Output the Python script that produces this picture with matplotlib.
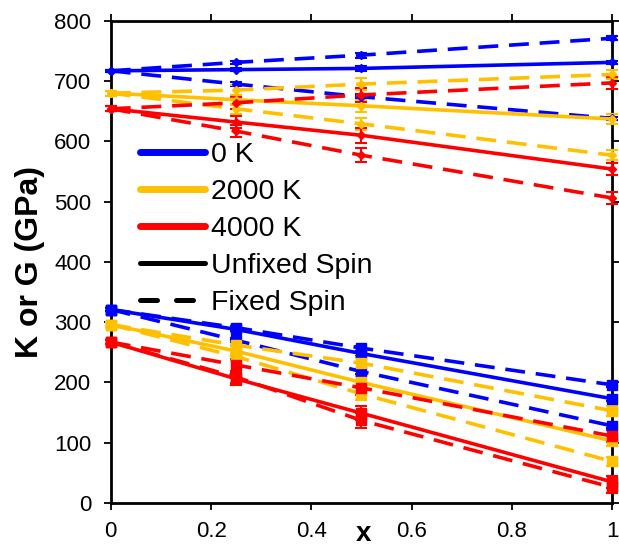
import matplotlib
matplotlib.use("Agg")
import matplotlib.pyplot as plt
from matplotlib.lines import Line2D

plt.rcParams['font.family'] = ['Liberation Sans', 'DejaVu Sans']

x = [0, 0.25, 0.5, 1]

temps = ['0 K', '2000 K', '4000 K']
colors = ['#0000FF', '#FFC000', '#FF0000']

# Bulk modulus K (GPa): unfixed, fixed (a), fixed (b)
K_unfixed = [[717, 719, 721, 731], [680, 669, 659, 637], [654, 632, 610, 554]]
K_fixed_a = [[717, 731, 743, 771], [680, 685, 695, 711], [654, 664, 677, 697]]
K_fixed_b = [[717, 695, 674, 638], [680, 654, 629, 577], [654, 617, 577, 506]]

# Shear modulus G (GPa)
G_unfixed = [[321, 288, 248, 173], [296, 252, 200, 103], [267, 206, 149, 35]]
G_fixed_a = [[321, 291, 257, 196], [296, 262, 232, 153], [267, 229, 191, 111]]
G_fixed_b = [[321, 270, 218, 128], [296, 243, 181, 69], [267, 209, 137, 26]]

# error bar half-widths per temperature
err = [[2, 3, 4, 3], [4, 8, 10, 8], [4, 10, 12, 10]]

x_ticks = [0, 0.2, 0.4, 0.6, 0.8, 1]
x_tick_labels = ['0', '0.2', '0.4', '0.6', '0.8', '1']
y_ticks = [0, 100, 200, 300, 400, 500, 600, 700, 800]

fig = plt.figure(figsize=(6.19, 5.47), dpi=100)
ax = fig.add_axes([0.179, 0.0804, 0.81, 0.8816])

lw = 2.6
dash = (5.5, 3)
for i, c in enumerate(colors):
    for series, marker, ms in [(K_unfixed, 'D', 4.5), (G_unfixed, 's', 6.5)]:
        ax.errorbar(x, series[i], yerr=err[i], color=c, lw=lw, marker=marker, ms=ms,
                    capsize=4, elinewidth=1.5, capthick=1.5, zorder=3, clip_on=False)
    for series, marker, ms in [(K_fixed_a, 'D', 4.5), (K_fixed_b, 'D', 4.5),
                               (G_fixed_a, 's', 6.5), (G_fixed_b, 's', 6.5)]:
        ax.errorbar(x, series[i], yerr=err[i], color=c, lw=lw, marker=marker, ms=ms,
                    capsize=4, elinewidth=1.5, capthick=1.5, linestyle=(0, dash),
                    zorder=3, clip_on=False)

ax.set_xlim(0, 1)
ax.set_ylim(0, 800)
ax.set_xticks(x_ticks)
ax.set_xticklabels(x_tick_labels)
ax.set_yticks(y_ticks)
ax.tick_params(axis='both', labelsize=16, length=5, width=1.3, direction='out',
               top=True, right=True, colors='black')
ax.tick_params(axis='x', pad=8)
ax.tick_params(axis='y', pad=9)
for s in ax.spines.values():
    s.set_linewidth(2)

ax.set_ylabel('K or G (GPa)', fontsize=23, fontweight='bold')
ax.yaxis.set_label_coords(-0.132, 0.5)
ax.set_xlabel('x', fontsize=20, fontweight='bold', va='bottom')
ax.xaxis.set_label_coords(0.503, -0.091)

handles = [Line2D([], [], color=c, lw=5, solid_capstyle='round') for c in colors]
handles += [Line2D([], [], color='black', lw=3.6, solid_capstyle='round'),
            Line2D([], [], color='black', lw=3.6, linestyle=(0, (3.4, 3.8)),
                   dash_capstyle='round')]
labels = temps + ['Unfixed Spin', 'Fixed Spin']
ax.legend(handles, labels, loc='upper left', bbox_to_anchor=(0.058, 0.748), frameon=False,
          fontsize=20.5, handlelength=2.3, labelspacing=0.38, handletextpad=0.2,
          borderaxespad=0, borderpad=0)

fig.savefig('out.png', dpi=100)
